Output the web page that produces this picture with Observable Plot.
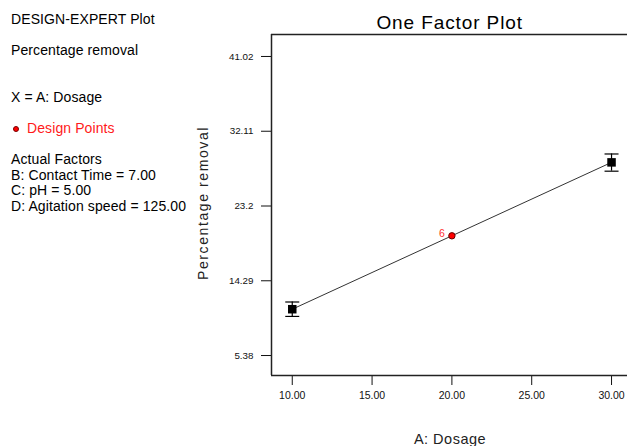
<!DOCTYPE html>
<html>
<head>
<meta charset="utf-8">
<script src="https://cdn.jsdelivr.net/npm/d3@7"></script>
<script src="https://cdn.jsdelivr.net/npm/@observablehq/plot@0.6"></script>
<style>
  html, body { margin: 0; padding: 0; background: white; }
  #wrap { position: relative; width: 627px; height: 446px; overflow: hidden; font-family: 'Liberation Sans', Arial, sans-serif; color: #000; }
  #wrap svg { position: absolute; left: 0; top: 0; }
  .t { position: absolute; white-space: nowrap; line-height: 1; }
  .side { font-size: 14px; left: 11px; letter-spacing: 0.1px; }
  g[aria-label^="x-axis"] text { font-size: 10.5px; }
</style>
</head>
<body>
<div id="wrap"></div>
<script>
// ---- data ----
const dosage = [10, 30];                 // A: Dosage levels with prediction
const predicted = [10.90, 28.40];        // predicted Percentage removal
const lowerCI = [10.04, 27.35];
const upperCI = [11.76, 29.40];
const designDosage = [20];               // design point
const designRemoval = [19.65];
const designCount = ["6"];
const xTicks = [10, 15, 20, 25, 30];
const yTicks = [5.38, 14.29, 23.2, 32.11, 41.02];
const yTickLabels = ["5.38", "14.29", "23.2", "32.11", "41.02"];
const xDomain = [8.7, 31.0];
const yDomain = [3.0, 43.64];

const pred = dosage.map((x, i) => ({x, y: predicted[i], lo: lowerCI[i], hi: upperCI[i]}));
const design = designDosage.map((x, i) => ({x, y: designRemoval[i], n: designCount[i]}));

const capSymbol = { draw(ctx) { ctx.moveTo(-7, 0); ctx.lineTo(7, 0); } };

const chart = Plot.plot({
  width: 627, height: 446,
  marginLeft: 271, marginRight: 0, marginTop: 34, marginBottom: 71,
  style: { fontFamily: "'Liberation Sans', Arial, sans-serif", fontSize: "9.8px", color: "#111", background: "white", overflow: "visible" },
  x: { domain: xDomain, ticks: xTicks, tickFormat: d3.format(".2f"), tickSize: 10, tickPadding: 6, label: null },
  y: { domain: yDomain, ticks: yTicks, tickFormat: d => yTickLabels[yTicks.indexOf(d)], tickSize: 10, tickPadding: 8, label: null },
  marks: [
    Plot.ruleY(yDomain, { stroke: "#222", strokeWidth: 1.5 }),
    Plot.ruleX([xDomain[0]], { stroke: "#222", strokeWidth: 1.5 }),
    Plot.line(pred, { x: "x", y: "y", stroke: "#333", strokeWidth: 1 }),
    Plot.ruleX(pred, { x: "x", y1: "lo", y2: "hi", stroke: "#000", strokeWidth: 1.2 }),
    Plot.dot(pred, { x: "x", y: "lo", symbol: capSymbol, stroke: "#000", strokeWidth: 1.2, fill: "none", r: 4 }),
    Plot.dot(pred, { x: "x", y: "hi", symbol: capSymbol, stroke: "#000", strokeWidth: 1.2, fill: "none", r: 4 }),
    Plot.dot(pred, { x: "x", y: "y", symbol: "square", fill: "#000", r: 4.8 }),
    Plot.dot(design, { x: "x", y: "y", fill: "#ff0000", stroke: "#600", strokeWidth: 1, r: 3.2 }),
    Plot.text(design, { x: "x", y: "y", text: "n", fill: "#ff3030", fontSize: 10.5, textAnchor: "end", dx: -7, dy: -2 })
  ]
});
const wrap = document.getElementById("wrap");
wrap.appendChild(chart);

function addText(txt, cls, style) {
  const d = document.createElement("div");
  d.className = "t " + cls;
  d.textContent = txt;
  Object.assign(d.style, style);
  wrap.appendChild(d);
  return d;
}
addText("DESIGN-EXPERT Plot", "side", { top: "12.2px" });
addText("Percentage removal", "side", { top: "43.2px" });
addText("X = A: Dosage", "side", { top: "90.2px" });
addText("Design Points", "side", { top: "121.2px", left: "27px", color: "#ff1a1a" });
const dot = document.createElement("div");
Object.assign(dot.style, { position: "absolute", left: "13px", top: "126.3px", width: "4px", height: "4px", borderRadius: "50%", background: "#ff0000", border: "1px solid #700" });
wrap.appendChild(dot);
addText("Actual Factors", "side", { top: "152.2px" });
addText("B: Contact Time = 7.00", "side", { top: "167.7px" });
addText("C: pH = 5.00", "side", { top: "183.2px" });
addText("D: Agitation speed = 125.00", "side", { top: "199px" });

addText("One Factor Plot", "", { fontSize: "19px", letterSpacing: "0.9px", top: "13.2px", left: "449.7px", transform: "translateX(-50%)" });
addText("A: Dosage", "", { fontSize: "14.5px", letterSpacing: "0.5px", top: "432.4px", left: "450px", transform: "translateX(-50%)", color: "#222" });
addText("Percentage removal", "", { fontSize: "14px", letterSpacing: "1.6px", top: "196.4px", left: "203.2px", transform: "translateX(-50%) rotate(-90deg)", transformOrigin: "50% 50%", color: "#222" });
</script>
</body>
</html>
